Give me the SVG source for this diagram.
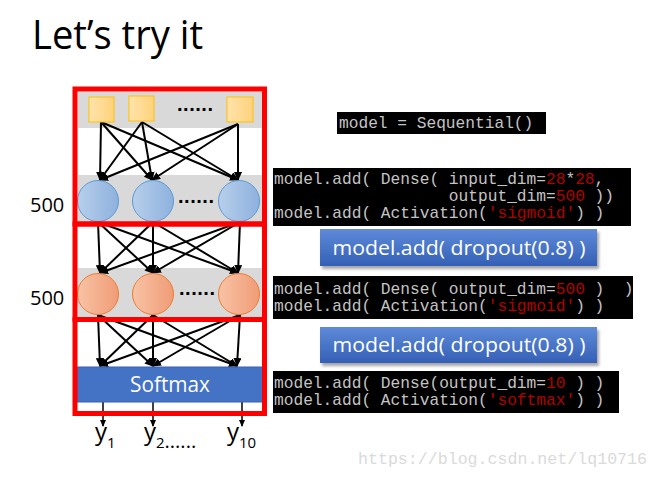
<svg xmlns="http://www.w3.org/2000/svg" width="659" height="478" viewBox="0 0 659 478">
<style>
.title{font-family:"Open Sans","Liberation Sans",sans-serif;font-size:40px;fill:#000}
.lbl{font-family:"Open Sans","Liberation Sans",sans-serif;font-size:20px;fill:#000}
.band{fill:#D9D9D9}
.frame{fill:none;stroke:#FF0000;stroke-width:5}
.sq{fill:url(#gy);stroke:#FFC000;stroke-width:1}
.cb{fill:url(#gb);stroke:#5B9BD5;stroke-width:1}
.co{fill:url(#go);stroke:#ED7D31;stroke-width:1}
.dots{font-family:"Liberation Sans",sans-serif;font-size:20px;font-weight:bold;fill:#000}
.code{font-family:"Liberation Mono","Courier New",monospace;font-size:16.2px;fill:#C4C4C4}
.red{fill:#B00000}
.codebg{fill:#000}
.btn{fill:url(#gbtn)}
.btxt{font-family:"Open Sans","Liberation Sans",sans-serif;font-size:20px;fill:#FFFFFF}
.conn line{stroke:#000;stroke-width:2;marker-end:url(#ah)}
.conn line.out{stroke-width:1.5;marker-end:url(#ahs)}
.ylbl{font-family:"Open Sans","Liberation Sans",sans-serif;font-size:24px;fill:#000}
.sub{font-size:15px}
</style>
<defs>
<linearGradient id="gy" x1="0" y1="0" x2="1" y2="0"><stop offset="0" stop-color="#FFE3AA"/><stop offset="1" stop-color="#FFD27C"/></linearGradient>
<linearGradient id="gb" x1="0" y1="0" x2="1" y2="0"><stop offset="0" stop-color="#B7CFEB"/><stop offset="1" stop-color="#8EB1DE"/></linearGradient>
<linearGradient id="go" x1="0" y1="0" x2="1" y2="0"><stop offset="0" stop-color="#F8C3A6"/><stop offset="1" stop-color="#F09C76"/></linearGradient>
<linearGradient id="gbtn" x1="0" y1="0" x2="0" y2="1"><stop offset="0" stop-color="#5E8AD8"/><stop offset="1" stop-color="#3460B6"/></linearGradient>
<filter id="sh" x="-5%" y="-10%" width="115%" height="140%"><feDropShadow dx="2" dy="3" stdDeviation="1.5" flood-color="#000" flood-opacity="0.35"/></filter>
<marker id="ah" markerUnits="userSpaceOnUse" markerWidth="9" markerHeight="8" refX="8" refY="4" orient="auto"><path d="M0,0 L9,4 L0,8 z" fill="#000"/></marker>
<marker id="ahs" markerUnits="userSpaceOnUse" markerWidth="7" markerHeight="6" refX="6" refY="3" orient="auto"><path d="M0,0 L7,3 L0,6 z" fill="#000"/></marker>
</defs>
<rect width="659" height="478" fill="#FFFFFF"/>
<text class="title" x="32" y="49" textLength="171" lengthAdjust="spacingAndGlyphs">Let’s try it</text>

<rect class="band" x="78" y="92" width="185" height="36"/>
<rect class="band" x="78" y="175" width="185" height="49"/>
<rect class="band" x="78" y="268" width="185" height="49"/>

<g id="connectors" class="conn">
<line x1="101" y1="122" x2="100" y2="180"/>
<line x1="101" y1="122" x2="152" y2="180"/>
<line x1="101" y1="122" x2="238" y2="180"/>
<line x1="142" y1="122" x2="100" y2="180"/>
<line x1="142" y1="122" x2="152" y2="180"/>
<line x1="142" y1="122" x2="238" y2="180"/>
<line x1="238" y1="124" x2="100" y2="180"/>
<line x1="238" y1="124" x2="152" y2="180"/>
<line x1="238" y1="124" x2="238" y2="180"/>
<line x1="98" y1="222" x2="100" y2="273"/>
<line x1="98" y1="222" x2="153" y2="273"/>
<line x1="98" y1="222" x2="238" y2="273"/>
<line x1="153" y1="222" x2="100" y2="273"/>
<line x1="153" y1="222" x2="153" y2="273"/>
<line x1="153" y1="222" x2="238" y2="273"/>
<line x1="240" y1="222" x2="100" y2="273"/>
<line x1="240" y1="222" x2="153" y2="273"/>
<line x1="240" y1="222" x2="238" y2="273"/>
<line x1="98" y1="315" x2="100" y2="366"/>
<line x1="98" y1="315" x2="153" y2="366"/>
<line x1="98" y1="315" x2="237" y2="366"/>
<line x1="153" y1="315" x2="100" y2="366"/>
<line x1="153" y1="315" x2="153" y2="366"/>
<line x1="153" y1="315" x2="237" y2="366"/>
<line x1="240" y1="315" x2="100" y2="366"/>
<line x1="240" y1="315" x2="153" y2="366"/>
<line x1="240" y1="315" x2="237" y2="366"/>
<line class="out" x1="103" y1="402" x2="103" y2="426"/>
<line class="out" x1="153" y1="402" x2="153" y2="426"/>
<line class="out" x1="242" y1="402" x2="242" y2="426"/>
</g>

<g id="input-layer">
<rect class="sq" x="89" y="97" width="25" height="25"/>
<rect class="sq" x="129" y="96" width="25" height="25"/>
<rect class="sq" x="227" y="97" width="26" height="25"/>
<text class="dots" x="177" y="111" textLength="36" lengthAdjust="spacing">......</text>
</g>

<g id="hidden-layer-1">
<circle class="cb" cx="98" cy="201" r="20.5"/>
<circle class="cb" cx="153" cy="201" r="20.5"/>
<circle class="cb" cx="239" cy="201" r="20.5"/>
<text class="dots" x="178" y="203" textLength="36" lengthAdjust="spacing">......</text>
<text class="lbl" x="30" y="212">500</text>
</g>

<g id="hidden-layer-2">
<circle class="co" cx="98" cy="294" r="20.5"/>
<circle class="co" cx="153" cy="294" r="20.5"/>
<circle class="co" cx="239" cy="294" r="20.5"/>
<text class="dots" x="179" y="295" textLength="36" lengthAdjust="spacing">......</text>
<text class="lbl" x="30" y="305">500</text>
</g>

<g id="softmax">
<rect x="77" y="367" width="186" height="35" fill="#4472C4" stroke="#3A63AD" stroke-width="1"/>
<text class="btxt" x="170" y="392" text-anchor="middle" style="font-size:22px" textLength="80" lengthAdjust="spacingAndGlyphs">Softmax</text>
</g>

<g id="frames">
<rect class="frame" x="75" y="89" width="189.5" height="135"/>
<rect class="frame" x="75" y="224" width="189.5" height="95.5"/>
<rect class="frame" x="75" y="319.5" width="189.5" height="94"/>
</g>

<g id="outputs">
<text class="ylbl" x="95" y="440">y<tspan class="sub" dy="8">1</tspan></text>
<text class="ylbl" x="144" y="440">y<tspan class="sub" dy="8">2</tspan><tspan style="font-size:20px">......</tspan></text>
<text class="ylbl" x="227" y="440">y<tspan class="sub" dy="8">10</tspan></text>
</g>

<g id="code-sequential">
<rect class="codebg" x="337" y="112" width="209" height="22"/>
<text class="code" x="339" y="128">model = Sequential()</text>
</g>

<g id="code-dense1">
<rect class="codebg" x="273" y="168" width="358" height="58"/>
<text class="code" x="274" y="184" xml:space="preserve">model.add( Dense( input_dim=<tspan class="red">28</tspan>*<tspan class="red">28</tspan>,</text>
<text class="code" x="274" y="201" xml:space="preserve">                  output_dim=<tspan class="red">500</tspan> ))</text>
<text class="code" x="274" y="218" xml:space="preserve">model.add( Activation(<tspan class="red">'sigmoid'</tspan>) )</text>
</g>

<g id="dropout-1">
<rect class="btn" x="320" y="229" width="277" height="37" filter="url(#sh)"/>
<text class="btxt" x="459" y="255" text-anchor="middle" textLength="253" lengthAdjust="spacingAndGlyphs">model.add( dropout(0.8) )</text>
</g>

<g id="code-dense2">
<rect class="codebg" x="273" y="276" width="360" height="43"/>
<text class="code" x="274" y="294" xml:space="preserve">model.add( Dense( output_dim=<tspan class="red">500</tspan> )  )</text>
<text class="code" x="274" y="311" xml:space="preserve">model.add( Activation(<tspan class="red">'sigmoid'</tspan>) )</text>
</g>

<g id="dropout-2">
<rect class="btn" x="320" y="327" width="277" height="36" filter="url(#sh)"/>
<text class="btxt" x="459" y="352" text-anchor="middle" textLength="253" lengthAdjust="spacingAndGlyphs">model.add( dropout(0.8) )</text>
</g>

<g id="code-dense3">
<rect class="codebg" x="273" y="371" width="346" height="42"/>
<text class="code" x="274" y="388" xml:space="preserve">model.add( Dense(output_dim=<tspan class="red">10</tspan> ) )</text>
<text class="code" x="274" y="405" xml:space="preserve">model.add( Activation(<tspan class="red">'softmax'</tspan>) )</text>
</g>

<text x="358" y="464" font-family="'Liberation Mono',monospace" font-size="16.5" fill="#DADADA" textLength="289" lengthAdjust="spacingAndGlyphs">https://blog.csdn.net/lq10716</text>
</svg>
